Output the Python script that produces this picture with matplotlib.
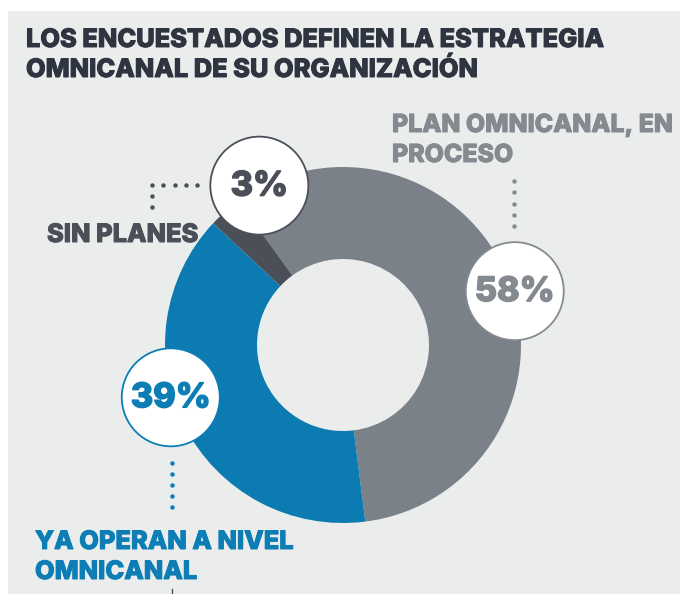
import numpy as np
import matplotlib
matplotlib.use("Agg")
import matplotlib.pyplot as plt
import matplotlib.patheffects as pe
from matplotlib.patches import Rectangle, Circle

W, H = 680, 594

labels = ["PLAN OMNICANAL, EN\nPROCESO", "YA OPERAN A NIVEL\nOMNICANAL", "SIN PLANES"]
values = [58, 39, 3]
pct_text = ["58%", "39%", "3%"]
title = "LOS ENCUESTADOS DEFINEN LA ESTRATEGIA\nOMNICANAL DE SU ORGANIZACIÓN"

wedge_colors = ["#7b8188", "#0b7bb1", "#4b4f58"]
text_colors = ["#858a90", "#0c7db5", "#4b4f58"]
bubble_angles = [17.4, 196.9, 117.7]

plt.rcParams["font.family"] = ["Inter", "DejaVu Sans"]

fig = plt.figure(figsize=(W / 100, H / 100), dpi=100, facecolor="white")
ax = fig.add_axes([0, 0, 1, 1])


def Y(y):
    # image row -> data y
    return H - y


def bold(color, w=0.7):
    return [pe.withStroke(linewidth=w, foreground=color)]


ax.add_patch(Rectangle((8, 0), W - 8, H - 11, facecolor="#ebeded", edgecolor="none", zorder=0))

cx, cy, R = 343, Y(345), 178
ax.pie(values, colors=wedge_colors, startangle=126, counterclock=False,
       radius=R, center=(cx, cy), frame=True,
       wedgeprops=dict(width=92, linewidth=0))
ax.set_xlim(0, W)
ax.set_ylim(0, H)
ax.set_aspect("equal")
ax.axis("off")

# percentage bubbles
for ang, txt, tc in zip(bubble_angles, pct_text, text_colors):
    bx = cx + 180 * np.cos(np.radians(ang))
    by = cy + 180 * np.sin(np.radians(ang))
    ax.add_patch(Circle((bx, by), 49, facecolor="white", edgecolor=tc, linewidth=1.3, zorder=5))
    ax.text(bx, by - 1, txt, color=tc, fontsize=24.5, fontweight="heavy",
            ha="center", va="center", zorder=6, path_effects=bold(tc, 1.0))

# title
kw = dict(fontsize=18.3, fontweight="heavy", va="baseline")
t1, t2 = title.split("\n")
ax.text(26, Y(47), t1, color="#2e3540", path_effects=bold("#2e3540"), **kw)
ax.text(26, Y(77), t2, color="#2e3540", path_effects=bold("#2e3540"), **kw)

# category labels
l0 = labels[0].split("\n")
kw0 = dict(kw, fontsize=17.9)
ax.text(392, Y(132), l0[0], color=text_colors[0], path_effects=bold(text_colors[0]), **kw0)
ax.text(392, Y(162), l0[1], color=text_colors[0], path_effects=bold(text_colors[0]), **kw0)
l1 = labels[1].split("\n")
ax.text(35, Y(549), l1[0], color=text_colors[1], path_effects=bold(text_colors[1]), **kw)
ax.text(35, Y(579), l1[1], color=text_colors[1], path_effects=bold(text_colors[1]), **kw)
ax.text(47, Y(242), labels[2], color=text_colors[2], path_effects=bold(text_colors[2]), **kw)

# dotted leaders
dots = dict(linestyle="none", marker="o", markersize=3.2, markeredgewidth=0, zorder=4)
ax.plot(np.full(5, 514), Y(np.linspace(181, 226, 5)), color=text_colors[0], **dots)
ax.plot(np.full(5, 172), Y(np.linspace(463, 507, 5)), color=text_colors[1], **dots)
ax.plot(np.linspace(152, 197, 5), np.full(5, Y(185)), color=text_colors[2], **dots)
ax.plot([152, 152], [Y(196), Y(207)], color=text_colors[2], **dots)
ax.plot([172, 172], [Y(589), Y(594)], color="#4b4f58", linewidth=1, zorder=4)

fig.savefig("out.png", dpi=100, facecolor="white")
